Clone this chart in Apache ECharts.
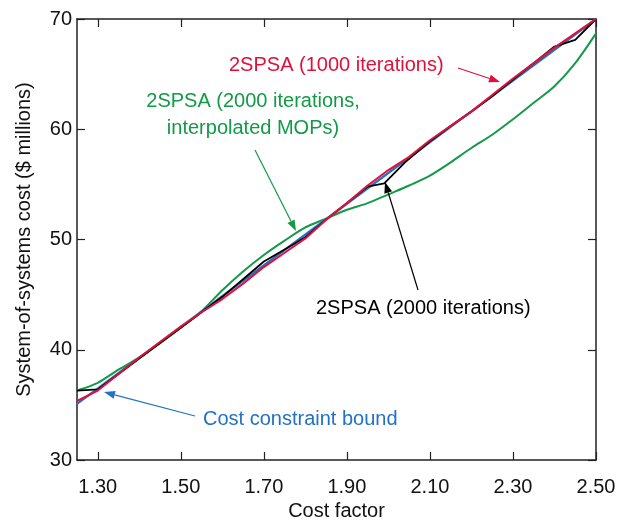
<!DOCTYPE html>
<html>
<head>
<meta charset="utf-8">
<script src="https://cdn.jsdelivr.net/npm/echarts@6/dist/echarts.min.js"></script>
<style>
  html, body { margin: 0; padding: 0; background: #fff; }
  #chart { width: 619px; height: 524px; }
</style>
</head>
<body>
<div id="chart"></div>
<script>
// cost factor grid and read-off values ($ millions)
var costX = [1.25, 1.30, 1.35, 1.40, 1.45, 1.50, 1.55, 1.60, 1.65, 1.70, 1.75, 1.80, 1.85,
             1.90, 1.95, 2.00, 2.05, 2.10, 2.15, 2.20, 2.25, 2.30, 2.35, 2.40, 2.45, 2.50];
var red1000 = [35.35, 36.3, 37.8, 39.3, 40.7, 42.1, 43.4, 44.6, 46.0, 47.5, 48.8, 50.1, 51.8,
               53.3, 54.9, 56.3, 57.5, 59.0, 60.3, 61.6, 63.1, 64.6, 66.0, 67.4, 68.7, 70.0];
var green2000 = [36.3, 37.0, 38.2, 39.3, 40.6, 42.0, 43.5, 45.4, 47.1, 48.6, 49.9, 51.1, 51.9,
                 52.7, 53.3, 54.1, 54.9, 55.8, 57.0, 58.3, 59.5, 60.9, 62.4, 63.9, 66.0, 68.7];
var blackX = [1.25, 1.30, 1.35, 1.40, 1.45, 1.50, 1.55, 1.60, 1.65, 1.70, 1.75, 1.80, 1.85,
              1.90, 1.95, 1.99, 2.04, 2.10, 2.15, 2.20, 2.25, 2.30, 2.35, 2.40, 2.45, 2.50];
var black2000 = [36.3, 36.4, 37.8, 39.2, 40.6, 42.0, 43.4, 44.8, 46.4, 48.0, 49.1, 50.2, 51.8,
                 53.3, 54.8, 55.1, 57.0, 58.9, 60.3, 61.6, 63.0, 64.5, 66.0, 67.5, 68.1, 70.0];
var boundX = [1.25, 2.50];
var boundY = [35.1, 70.0];
var xTicks = [1.30, 1.50, 1.70, 1.90, 2.10, 2.30, 2.50];

var FONT = "Liberation Sans";
var FS = 20;
var RED = "#e0103c", GREEN = "#139a48", BLUE = "#2272c3", BLACK = "#000";

function pairs(xs, ys) {
  return xs.map(function (x, i) { return [x, ys[i]]; });
}

function arrow(x1, y1, x2, y2, color) {
  var a = Math.atan2(y2 - y1, x2 - x1);
  var len = 11, w = 4;
  var bx = x2 - len * Math.cos(a), by = y2 - len * Math.sin(a);
  return [
    { type: "line", shape: { x1: x1, y1: y1, x2: bx, y2: by },
      style: { stroke: color, lineWidth: 1.2 }, z: 10 },
    { type: "polygon", shape: { points: [[x2, y2],
        [bx + w * Math.sin(a), by - w * Math.cos(a)],
        [bx - w * Math.sin(a), by + w * Math.cos(a)]] },
      style: { fill: color }, z: 10 }
  ];
}

function label(text, x, y, color, align) {
  return { type: "text", x: x, y: y, z: 10,
    style: { text: text, fill: color, font: FS + "px " + FONT,
             textAlign: align || "left", textVerticalAlign: "middle" } };
}

var axisLineStyle = { color: "#222", width: 1.5 };
var xAxisBase = {
  type: "value", min: 1.25, max: 2.5,
  axisLine: { lineStyle: axisLineStyle },
  axisTick: { inside: true, length: 8, customValues: xTicks, lineStyle: { color: "#222", width: 1.2 } },
  splitLine: { show: false }
};
var yAxisBase = {
  type: "value", min: 30, max: 70, interval: 10,
  axisLine: { show: true, lineStyle: axisLineStyle },
  axisTick: { show: true, inside: true, length: 8, lineStyle: { color: "#222", width: 1.2 } },
  splitLine: { show: false }
};

var graphics = []
  .concat([label("2SPSA (1000 iterations)", 229, 65, RED)])
  .concat(arrow(458, 68, 500, 82, RED))
  .concat([label("2SPSA (2000 iterations,", 253, 101, GREEN, "center"),
           label("interpolated MOPs)", 253, 128, GREEN, "center")])
  .concat(arrow(255, 150, 296, 231, GREEN))
  .concat([label("2SPSA (2000 iterations)", 316, 308, BLACK)])
  .concat(arrow(418, 290, 385, 182, BLACK))
  .concat([label("Cost constraint bound", 203, 419, BLUE)])
  .concat(arrow(195, 416, 104, 392, BLUE));

var chart = echarts.init(document.getElementById("chart"), null, { renderer: "canvas" });
chart.setOption({
  animation: false,
  backgroundColor: "#fff",
  textStyle: { fontFamily: FONT },
  grid: { left: 77, right: 23, top: 19, bottom: 64, outerBoundsMode: "none" },
  xAxis: [
    Object.assign({}, xAxisBase, {
      position: "bottom",
      name: "Cost factor", nameLocation: "middle", nameGap: 41,
      nameTextStyle: { color: "#111", fontSize: FS, fontFamily: FONT },
      axisLabel: { customValues: xTicks, margin: 17, color: "#111", fontSize: FS, fontFamily: FONT,
                   formatter: function (v) { return v.toFixed(2); } }
    }),
    Object.assign({}, xAxisBase, { position: "top", axisLabel: { show: false } })
  ],
  yAxis: [
    Object.assign({}, yAxisBase, {
      position: "left",
      name: "System-of-systems cost ($ millions)", nameLocation: "middle", nameGap: 43,
      nameTextStyle: { color: "#111", fontSize: FS, fontFamily: FONT },
      axisLabel: { margin: 5, color: "#111", fontSize: FS, fontFamily: FONT }
    }),
    Object.assign({}, yAxisBase, { position: "right", axisLabel: { show: false } })
  ],
  series: [
    { name: "2SPSA (2000 iterations, interpolated MOPs)", type: "line", symbol: "none", smooth: 0.3,
      data: pairs(costX, green2000), lineStyle: { color: GREEN, width: 2 }, z: 2 },
    { name: "Cost constraint bound", type: "line", symbol: "none",
      data: pairs(boundX, boundY), lineStyle: { color: BLUE, width: 2.2 }, z: 3 },
    { name: "2SPSA (2000 iterations)", type: "line", symbol: "none",
      data: pairs(blackX, black2000), lineStyle: { color: BLACK, width: 1.8 }, z: 4 },
    { name: "2SPSA (1000 iterations)", type: "line", symbol: "none",
      data: pairs(costX, red1000), lineStyle: { color: RED, width: 2 }, z: 5 }
  ],
  graphic: graphics
});
</script>
</body>
</html>
